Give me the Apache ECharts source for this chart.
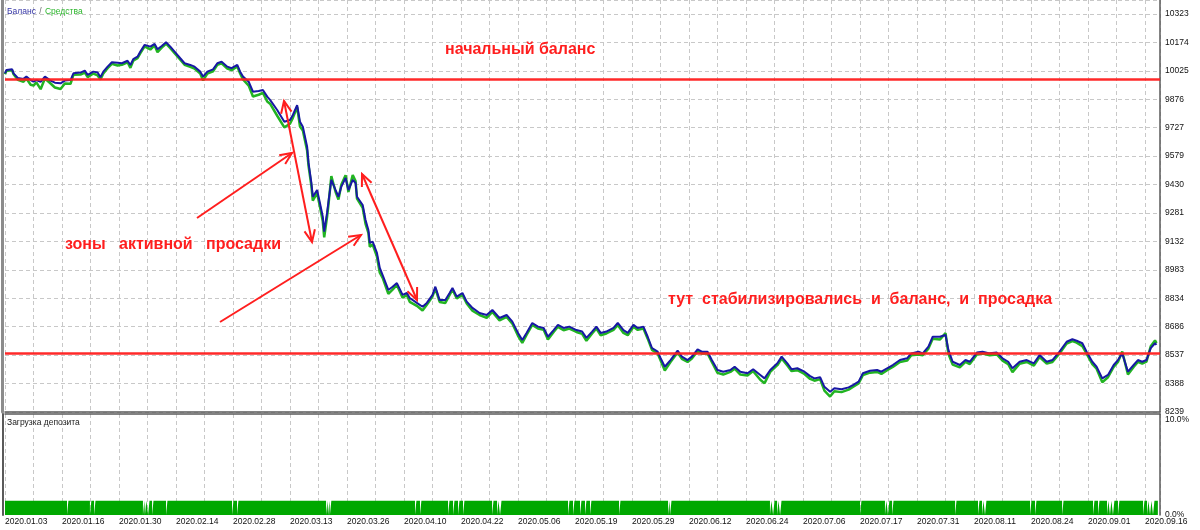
<!DOCTYPE html>
<html><head><meta charset="utf-8">
<script src="https://cdn.jsdelivr.net/npm/echarts@6/dist/echarts.min.js"></script>
<style>html,body{margin:0;padding:0;background:#fff}#c{width:1200px;height:530px}</style>
</head><body><div id="c"></div>
<script>
// ---- data ----
const trades = [
0,1,5,6,9,13,15,18,20,22,
25,28,32,35,39,42,46,48,53,56,
58,62,65,67,69,72,75,79,82,86,
88,90,93,95,98,102,105,107,110,113,
116,119,123,126,130,133,137,139,142,146,
149,152,156,159,163,165,167,171,174,178,
181,184,186,191,196,200,202,205,207,209,
212,213,215,216,219,221,223,224,226,227,
229,232,234,236,239,241,244,246,247,251,
253,255,256,258,261,263,265,269,272,275,
279,282,284,289,293,296,300,302,305,309,
312,314,317,321,324,328,333,338,342,347,
352,356,360,363,366,370,374,378,381,385,
388,392,396,401,405,408,412,415,418,422,
427,430,434,437,441,444,448,451,454,458,
460,463,467,472,475,479,482,486,489,493,
496,500,504,509,512,516,521,525,530,533,
537,542,545,549,552,556,561,565,568,572,
575,579,582,587,592,595,599,602,607,612,
615,619,623,628,633,636,641,644,648,651,
656,660,662,665,670,674,677,682,686,691,
696,700,704,707,712,717,722,726,731,735,
740,745,749,752,756,759,763,766,770,774,
778,781,784,788,792,795,798,801,804,807,
808];
const balance = [
10012,10030,10033,10012,9988,9983,9995,9977,9968,9977,
9967,9995,9974,9963,9960,9974,9977,10012,10016,10026,
10004,10021,10016,9992,10021,10047,10070,10068,10065,10078,
10056,10086,10099,10126,10161,10152,10166,10138,10155,10175,
10152,10126,10091,10065,10056,10047,10021,9995,10021,10033,
10065,10073,10047,10039,10056,10021,9995,9968,9916,9920,
9925,9890,9873,9820,9759,9768,9794,9846,9759,9733,
9628,9543,9438,9366,9401,9333,9262,9183,9281,9340,
9454,9401,9366,9419,9464,9401,9454,9438,9366,9323,
9244,9192,9124,9131,9072,8993,8956,8878,8895,8914,
8852,8862,8836,8810,8790,8810,8852,8895,8825,8825,
8862,8888,8843,8862,8817,8784,8757,8747,8773,8731,
8747,8712,8653,8616,8653,8705,8686,8679,8633,8668,
8695,8679,8686,8668,8660,8627,8660,8686,8653,8660,
8679,8705,8668,8653,8695,8679,8686,8633,8574,8555,
8522,8476,8511,8560,8529,8511,8529,8567,8555,8555,
8511,8459,8450,8459,8476,8450,8442,8463,8433,8415,
8459,8494,8529,8494,8463,8468,8450,8427,8415,8421,
8371,8345,8363,8358,8368,8380,8398,8442,8455,8459,
8450,8468,8485,8511,8520,8546,8555,8546,8581,8633,
8633,8642,8564,8502,8485,8511,8502,8550,8555,8546,
8550,8520,8502,8468,8502,8511,8494,8537,8502,8511,
8555,8607,8620,8612,8599,8555,8502,8476,8415,8433,
8485,8511,8546,8450,8485,8511,8502,8511,8573,8599,
8590];
const equity = [
10007,10025,10028,10007,9978,9968,9985,9952,9948,9965,
9929,9985,9959,9938,9930,9959,9957,10004,10006,10016,
9992,10011,10001,9980,10011,10039,10062,10053,10057,10070,
10041,10078,10091,10118,10153,10137,10158,10123,10147,10167,
10144,10118,10083,10057,10046,10037,10011,9975,10011,10023,
10057,10065,10037,10029,10048,10011,9980,9948,9891,9900,
9910,9865,9853,9790,9729,9748,9779,9836,9734,9713,
9608,9528,9423,9346,9386,9313,9237,9153,9261,9325,
9474,9391,9351,9429,9479,9391,9479,9448,9356,9308,
9224,9177,9104,9116,9052,8968,8941,8858,8880,8904,
8837,8852,8816,8795,8770,8800,8844,8885,8815,8810,
8852,8880,8833,8852,8807,8769,8747,8732,8763,8719,
8737,8702,8638,8601,8643,8695,8676,8669,8618,8658,
8685,8667,8676,8658,8648,8612,8650,8676,8641,8650,
8669,8695,8653,8641,8685,8669,8676,8623,8564,8545,
8510,8456,8501,8550,8517,8501,8519,8557,8545,8545,
8501,8444,8435,8449,8466,8435,8430,8453,8408,8390,
8449,8484,8519,8482,8453,8458,8438,8412,8403,8411,
8351,8320,8348,8343,8356,8370,8388,8432,8445,8449,
8438,8458,8475,8501,8508,8536,8540,8536,8571,8623,
8618,8652,8544,8487,8473,8501,8490,8540,8545,8536,
8540,8508,8490,8448,8492,8501,8482,8527,8492,8501,
8545,8597,8610,8602,8584,8545,8490,8466,8395,8421,
8475,8501,8556,8435,8475,8501,8492,8503,8583,8614,
8600];
const dateLabels = ['2020.01.03','2020.01.16','2020.01.30','2020.02.14','2020.02.28','2020.03.13','2020.03.26',
  '2020.04.10','2020.04.22','2020.05.06','2020.05.19','2020.05.29','2020.06.12','2020.06.24','2020.07.06',
  '2020.07.17','2020.07.31','2020.08.11','2020.08.24','2020.09.01','2020.09.16'];
const yTickLabels = [8239,8388,8537,8686,8834,8983,9132,9281,9430,9579,9727,9876,10025,10174,10323];
const refLevels = [9983, 8548];           // hand-drawn red horizontal lines
const loadLevel = 1.5;                    // deposit load, %
const loadEnd = 809;
const loadGaps = [43.5,59.6,62.5,96.8,98.2,100.4,103.2,113,159.3,162.8,225.3,226.7,228,287.7,291.2,310.9,
  314.4,317.9,321.4,341.8,345.3,347.4,395.1,398.6,403.5,407,410.5,430.9,465.3,466.7,536.8,539,541.8,543.9,
  600,617.5,619.6,622.5,666.7,682.8,685.6,687.7,719.3,722.8,741.8,763.5,767,773.3,775.4,777.5,781,798.6,
  801.4,803.5,805.6];

// ---- chart ----
const FONT = '"Liberation Sans", Arial, sans-serif';
const RED = '#ff1e1e';
const GRID_C = '#c8c8c8';
const AX_C = '#5a5a5a';
const yMin = yTickLabels[0];
const yStep = (yTickLabels[yTickLabels.length-1] - yMin) / (yTickLabels.length - 1);
const yMax = 10396;
const xMax = 810.5;

const balanceData = trades.map((t,i)=>[t, balance[i]]);
const equityData = trades.map((t,i)=>[t, equity[i]]);
const loadData = [[0, loadLevel]];
loadGaps.forEach(g => { loadData.push([g, 0]); loadData.push([g + 1, loadLevel]); });
loadData.push([loadEnd, loadLevel]);

function arrow(x1, y1, x2, y2, both) {
  const els = [{type:'line', z:100, shape:{x1,y1,x2,y2}, style:{stroke:RED, lineWidth:2}}];
  const head = (xa, ya, xb, yb) => {
    const a = Math.atan2(yb - ya, xb - xa), L = 13, w = 0.42;
    return {type:'polyline', z:100, shape:{points:[
      [xb - L*Math.cos(a - w), yb - L*Math.sin(a - w)], [xb, yb],
      [xb - L*Math.cos(a + w), yb - L*Math.sin(a + w)]]},
      style:{stroke:RED, lineWidth:2, fill:null}};
  };
  els.push(head(x1, y1, x2, y2));
  if (both) els.push(head(x2, y2, x1, y1));
  return els;
}
const annFont = 'bold 16px "Liberation Sans", Arial, sans-serif';
const graphics = [
  {type:'text', z:100, x:7, y:12, style:{text:'{a|Баланс} {b|/} {c|Средства}', verticalAlign:'middle',
    rich:{a:{fill:'#3434a4', font:'8.5px "Liberation Sans"'}, b:{fill:'#666', font:'8.5px "Liberation Sans"'},
          c:{fill:'#2bb52b', font:'8.5px "Liberation Sans"'}}}},
  {type:'text', z:100, x:7, y:423, style:{text:'Загрузка депозита', fill:'#222', font:'8.5px "Liberation Sans"', verticalAlign:'middle'}},
  {type:'text', z:100, x:445, y:50, style:{text:'начальный баланс', fill:RED, font:annFont, verticalAlign:'middle'}},
  {type:'text', z:100, x:65, y:245, style:{text:'зоны   активной   просадки', fill:RED, font:annFont, verticalAlign:'middle'}},
  {type:'text', z:100, x:668, y:300, style:{text:'тут  стабилизировались  и  баланс,  и  просадка', fill:RED, font:annFont, verticalAlign:'middle'}},
  ...arrow(197, 218, 292, 153, false),
  ...arrow(220, 322, 361, 235, false),
  ...arrow(284, 101, 312, 242, true),
  ...arrow(362, 174, 417, 300, true)
];

const dashed = {show:true, lineStyle:{color:GRID_C, type:[4,3], width:1}};
const chart = echarts.init(document.getElementById('c'), null, {renderer:'canvas'});
chart.setOption({
  animation:false,
  backgroundColor:'#ffffff',
  grid:[
    {left:5, right:40, top:0, height:412, containLabel:false, outerBoundsMode:'none'},
    {left:5, right:40, top:414, height:101, containLabel:false, outerBoundsMode:'none'}
  ],
  xAxis:[
    {gridIndex:0, type:'value', min:0, max:xMax, interval:20,
     axisLine:{show:true, onZero:false, lineStyle:{color:AX_C, width:1.5}}, axisTick:{show:false},
     axisLabel:{show:false}, splitLine:dashed},
    {gridIndex:1, type:'value', min:0, max:xMax, interval:20, position:'bottom',
     axisLine:{show:false, onZero:false}, axisTick:{show:false}, splitLine:dashed,
     axisLabel:{show:true, align:'left', margin:2, fontSize:8.5, fontFamily:FONT, color:'#111',
       formatter:v => { const k = Math.round(v/20); return (Math.abs(v - k*20) < 0.01 && k % 2 === 0 && dateLabels[k/2]) ? dateLabels[k/2] : ''; }}},
    {gridIndex:1, type:'value', min:0, max:xMax, position:'top',
     axisLine:{show:true, onZero:false, lineStyle:{color:AX_C, width:1.5}}, axisTick:{show:false},
     axisLabel:{show:false}, splitLine:{show:false}}
  ],
  yAxis:[
    {gridIndex:0, type:'value', position:'right', min:yMin, max:yMax, interval:yStep,
     axisLine:{show:true, onZero:false, lineStyle:{color:AX_C, width:1.5}}, axisTick:{show:false},
     splitLine:dashed,
     axisLabel:{show:true, margin:5, fontSize:8.5, fontFamily:FONT, color:'#111', showMaxLabel:false, showMinLabel:true,
       formatter:v => { const i = Math.round((v - yMin)/yStep); return (i >= 0 && i < yTickLabels.length && Math.abs(v - (yMin + i*yStep)) < 1) ? String(yTickLabels[i]) : ''; }}},
    {gridIndex:0, type:'value', position:'left', offset:3, min:0, max:1,
     axisLine:{show:true, onZero:false, lineStyle:{color:'#8c8c8c', width:3}}, axisTick:{show:false},
     axisLabel:{show:false}, splitLine:{show:false}},
    {gridIndex:1, type:'value', position:'right', min:0, max:10.63, interval:10,
     axisLine:{show:true, onZero:false, lineStyle:{color:AX_C, width:1.5}}, axisTick:{show:false},
     splitLine:{show:false},
     axisLabel:{show:true, margin:5, fontSize:8.5, fontFamily:FONT, color:'#111', showMaxLabel:false,
       formatter:v => v.toFixed(1) + '%'}},
    {gridIndex:1, type:'value', position:'left', offset:2, min:0, max:1,
     axisLine:{show:true, onZero:false, lineStyle:{color:AX_C, width:2}}, axisTick:{show:false},
     axisLabel:{show:false}, splitLine:{show:false}}
  ],
  series:[
    {name:'Средства', type:'line', xAxisIndex:0, yAxisIndex:0, data:equityData, symbol:'none', z:2,
     lineStyle:{color:'#22b422', width:2.5}},
    {name:'Баланс', type:'line', xAxisIndex:0, yAxisIndex:0, data:balanceData, symbol:'none', z:3,
     lineStyle:{color:'#1818a4', width:2},
     markLine:{silent:true, symbol:['none','none'], label:{show:false}, z:5,
       lineStyle:{color:RED, width:2.5, type:'solid', opacity:0.95},
       data:refLevels.map(v => ({yAxis:v}))}},
    {name:'Загрузка депозита', type:'line', xAxisIndex:1, yAxisIndex:2, data:loadData, step:'end',
     symbol:'none', lineStyle:{width:0}, areaStyle:{color:'#00a800', opacity:1}}
  ],
  graphic:graphics
});
</script></body></html>
